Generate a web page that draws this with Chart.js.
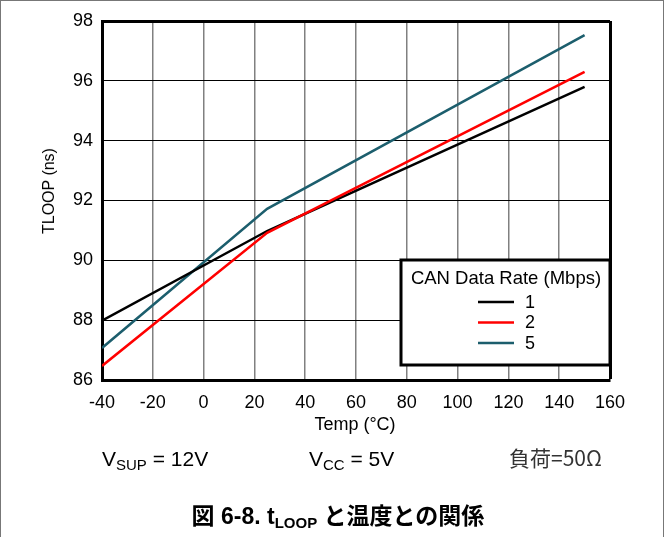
<!DOCTYPE html>
<html>
<head>
<meta charset="utf-8">
<script src="https://cdn.jsdelivr.net/npm/chart.js@4"></script>
<style>
    body { margin: 0; background: #fff; }
    #wrap {
        position: relative; width: 664px; height: 537px; box-sizing: border-box;
        border-top: 1px solid #777; border-left: 1px solid #777; border-right: 1px solid #777;
        font-family: "Liberation Sans", Arial, "Noto Sans CJK JP", sans-serif; color: #000;
    }
    #myChart { position: absolute; left: -1px; top: -1px; }
    .txt { position: absolute; white-space: nowrap; line-height: 1; }
    .note { font-size: 21px; top: 447px; }
    .note sub { font-size: 15px; vertical-align: -4px; }
    #yTitle { font-size: 16px; left: 48px; top: 190px; transform: translate(-50%, -50%) rotate(-90deg); }
    #xTitle { font-size: 18px; left: 354px; top: 414px; transform: translateX(-50%); }
    #caption { font-size: 23px; font-weight: bold; left: 337px; top: 504px; transform: translateX(-50%);
        font-family: "Liberation Sans", Arial, "Noto Sans CJK JP", sans-serif; }
    #caption sub { font-size: 15px; vertical-align: -4px; }
</style>
</head>
<body>
<div id="wrap">
    <canvas id="myChart" width="664" height="537"></canvas>
    <div class="txt" id="yTitle">TLOOP (ns)</div>
    <div class="txt" id="xTitle">Temp (°C)</div>
    <div class="txt note" style="left:101px">V<sub>SUP</sub> = 12V</div>
    <div class="txt note" style="left:308px">V<sub>CC</sub> = 5V</div>
    <div class="txt note" style="left:508px; top:446px; color:#333; font-family:'Noto Sans CJK JP','Liberation Sans',sans-serif; font-size:21px">負荷=50Ω</div>
    <div class="txt" id="caption">図 6-8. t<sub>LOOP</sub> と温度との関係</div>
</div>
<script>
// values
const temps = [-40, 25, 150];
const rate1 = [87.98, 90.98, 95.8];
const rate2 = [86.47, 90.92, 96.3];
const rate5 = [87.07, 91.72, 97.53];

const rateLabels = ['1', '2', '5'];
const rateColors = ['#000000', '#ff0000', '#1c5e6d'];

const legendTitle = 'CAN Data Rate (Mbps)';

function toPoints(values) {
    return temps.map((t, i) => ({x: t, y: values[i]}));
}

// legend drawn as a framed box inside the plot, bottom right
const boxLegend = {
    id: 'boxLegend',
    afterDatasetsDraw(chart) {
        const {ctx, chartArea} = chart;
        const right = chartArea.right;
        const left = right - 209;
        const top = chartArea.top + 239;
        const bottom = chartArea.bottom - 15;

        ctx.save();
        ctx.fillStyle = '#fff';
        ctx.fillRect(left, top, right - left, bottom - top);
        ctx.strokeStyle = '#000';
        ctx.lineWidth = 3;
        ctx.strokeRect(left, top, right - left, bottom - top);

        ctx.fillStyle = '#000';
        ctx.font = '18.5px "Liberation Sans", Arial, sans-serif';
        ctx.textAlign = 'center';
        ctx.textBaseline = 'middle';
        ctx.fillText(legendTitle, left + 105, top + 19);

        ctx.font = '18px "Liberation Sans", Arial, sans-serif';
        ctx.textAlign = 'left';
        chart.data.datasets.forEach((ds, i) => {
            const y = top + 42 + i * 20.5;
            ctx.strokeStyle = ds.borderColor;
            ctx.lineWidth = 2.5;
            ctx.beginPath();
            ctx.moveTo(left + 77, y);
            ctx.lineTo(left + 113, y);
            ctx.stroke();
            ctx.fillText(ds.label, left + 124, y + 1);
        });
        ctx.restore();
    }
};

function createChart() {
    const ctx = document.getElementById('myChart').getContext('2d');
    const tickFont = {family: '"Liberation Sans", Arial, sans-serif', size: 18};

    return new Chart(ctx, {
        type: 'line',
        data: {
            datasets: [rate1, rate2, rate5].map((vals, i) => ({
                label: rateLabels[i],
                data: toPoints(vals),
                borderColor: rateColors[i],
                borderWidth: 2.5,
                pointRadius: 0,
                tension: 0,
                order: i === 1 ? 0 : 1
            }))
        },
        options: {
            responsive: false,
            animation: false,
            layout: {padding: {left: 0, top: 21, right: 54, bottom: 127}},
            plugins: {legend: {display: false}, tooltip: {enabled: false}},
            scales: {
                x: {
                    type: 'linear',
                    min: -40, max: 160,
                    afterFit: scale => { scale.height = 30; },
                    ticks: {stepSize: 20, color: '#000', font: tickFont, padding: 12, maxRotation: 0, autoSkip: false},
                    grid: {
                        drawTicks: false,
                        color: c => c.tick && c.tick.value === 160 ? '#000' : '#808080',
                        lineWidth: c => c.tick && c.tick.value === 160 ? 3 : 1.5
                    },
                    border: {color: '#000', width: 3}
                },
                y: {
                    min: 86, max: 98,
                    afterFit: scale => { scale.width = 102; },
                    ticks: {stepSize: 2, color: '#000', font: tickFont, padding: 9},
                    grid: {
                        drawTicks: false,
                        color: '#000',
                        lineWidth: c => c.tick && c.tick.value === 98 ? 3 : 1
                    },
                    border: {color: '#000', width: 3}
                }
            }
        },
        plugins: [boxLegend]
    });
}

createChart();
</script>
</body>
</html>
